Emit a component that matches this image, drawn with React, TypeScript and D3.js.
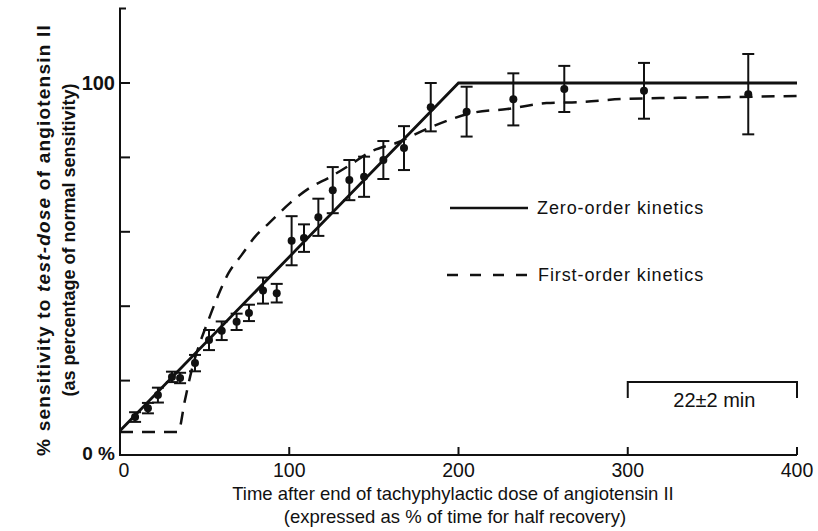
import React from "react";
import * as d3 from "d3";

// time after tachyphylactic dose, % of time for half recovery
const timePct = [8.9, 16.5, 22.4, 30.7, 35.5, 44.3, 52.6, 60.1, 68.9, 76.2, 84.5, 92.6, 101.4, 108.7, 117.2, 125.7, 135.5, 144.2, 155.6, 167.8, 183.6, 204.8, 232.4, 262.5, 309.6, 371.2];
// % sensitivity to test-dose (mean) and its error
const sensitivity = [10.2, 12.6, 16.1, 21.0, 20.7, 24.7, 30.9, 33.4, 35.8, 38.2, 44.2, 43.5, 57.6, 58.3, 63.9, 71.2, 73.9, 74.8, 79.3, 82.5, 93.5, 92.3, 95.6, 98.4, 97.9, 97.0];
const sem = [1.3, 1.4, 2.0, 1.4, 1.4, 2.2, 2.7, 2.5, 2.2, 2.2, 3.5, 2.5, 6.6, 3.7, 5.0, 6.2, 5.4, 5.4, 5.1, 5.9, 6.5, 6.7, 7.0, 6.2, 7.5, 10.8];

// zero-order kinetics model
const zeroX = [0, 200, 400];
const zeroY = [6.5, 100, 100];

// first-order kinetics model
const firstX = [0, 34.3, 38.4, 41.4, 53.2, 58.1, 64, 71.9, 79.8, 88.2, 100.4, 112, 124, 136, 148, 164, 183, 208.6, 228.7, 252, 272, 297, 327, 356, 400];
const firstY = [6.2, 6.2, 14.8, 21, 37.4, 43, 48.8, 53.8, 58.7, 62.4, 67.7, 71.8, 74.7, 78, 81.5, 84, 88, 92, 93, 94.6, 94.9, 95.7, 96, 96.2, 96.5];

const xTicks = [0, 100, 200, 300, 400];
const yTicks = [20, 40, 60, 80, 100];

const font = "'Liberation Sans', Arial, sans-serif";

export default function App() {
  const width = 818;
  const height = 531;

  const x = d3.scaleLinear().domain([0, 400]).range([120, 797]);
  const y = d3.scaleLinear().domain([0, 100]).range([455, 83]);

  const zeroLine = d3
    .line<number>()
    .x((d) => x(d))
    .y((d, i) => y(zeroY[i]));
  const firstLine = d3
    .line<number>()
    .x((d) => x(d))
    .y((d, i) => y(firstY[i]))
    .curve(d3.curveMonotoneX);

  const ink = "#111";

  return (
    <div style={{ position: "absolute", left: 0, top: 0 }}>
      <svg width={width} height={height} style={{ display: "block", background: "#fff" }} fontFamily={font}>
        {/* axes */}
        <path d={`M${x(0) + 6},${y(120)}H${x(0)}V${y(0)}H${x(400)}`} fill="none" stroke={ink} strokeWidth={2} />
        {yTicks.map((t) => (
          <line key={t} x1={x(0)} x2={x(0) + 10} y1={y(t)} y2={y(t)} stroke={ink} strokeWidth={2} />
        ))}
        {xTicks.slice(1).map((t) => (
          <line key={t} x1={x(t)} x2={x(t)} y1={y(0)} y2={y(0) - 8} stroke={ink} strokeWidth={2} />
        ))}
        {xTicks.map((t) => (
          <text key={t} x={x(t) + (t === 0 ? 4 : 0)} y={y(0) + 22} textAnchor="middle" fontSize={19.5} fill={ink}>
            {t}
          </text>
        ))}
        <text x={115} y={y(100) + 7} textAnchor="end" fontSize={20} fontWeight="bold" fill={ink}>100</text>
        <text x={115} y={y(0) + 5} textAnchor="end" fontSize={19} fontWeight="bold" fill={ink}>0 %</text>

        {/* axis titles */}
        <text x={453} y={500} textAnchor="middle" fontSize={18.5} fill={ink}>
          Time after end of tachyphylactic dose of angiotensin II
        </text>
        <text x={455} y={523} textAnchor="middle" fontSize={18.5} fill={ink}>
          (expressed as % of time for half recovery)
        </text>
        <g transform="translate(50,240) rotate(-90)">
          <text textAnchor="middle" fontSize={19} fontWeight="bold" fill={ink} letterSpacing={1.2}>
            % sensitivity to <tspan fontStyle="italic">test-dose</tspan> of angiotensin II
          </text>
          <text y={25} textAnchor="middle" fontSize={18} fontWeight="bold" fill={ink}>
            (as percentage of normal sensitivity)
          </text>
        </g>

        {/* model curves */}
        <path d={firstLine(firstX) || ""} fill="none" stroke={ink} strokeWidth={2.5} strokeDasharray="13,9" />
        <path d={zeroLine(zeroX) || ""} fill="none" stroke={ink} strokeWidth={2.8} />

        {/* data with error bars */}
        {timePct.map((t, i) => {
          const cx = x(t);
          const lo = y(sensitivity[i] - sem[i]);
          const hi = y(sensitivity[i] + sem[i]);
          return (
            <g key={i} stroke={ink} strokeWidth={2}>
              <line x1={cx} x2={cx} y1={lo} y2={hi} />
              <line x1={cx - 6} x2={cx + 6} y1={lo} y2={lo} />
              <line x1={cx - 6} x2={cx + 6} y1={hi} y2={hi} />
              <circle cx={cx} cy={y(sensitivity[i])} r={4} fill={ink} stroke="none" />
            </g>
          );
        })}

        {/* legend */}
        <line x1={450} x2={528} y1={208} y2={208} stroke={ink} strokeWidth={2.5} />
        <text x={537} y={214} fontSize={18} fill={ink} letterSpacing={0.9}>Zero-order kinetics</text>
        <line x1={447} x2={528} y1={275} y2={275} stroke={ink} strokeWidth={2.5} strokeDasharray="11,12" />
        <text x={538} y={281} fontSize={18} fill={ink} letterSpacing={0.9}>First-order kinetics</text>

        {/* time scale bar */}
        <path d={`M${x(300)},${398}V${382}H${x(400)}V${398}`} fill="none" stroke={ink} strokeWidth={2} />
        <text x={(x(300) + x(400)) / 2 + 2} y={407} textAnchor="middle" fontSize={20} fill={ink}>22±2 min</text>
      </svg>
    </div>
  );
}
